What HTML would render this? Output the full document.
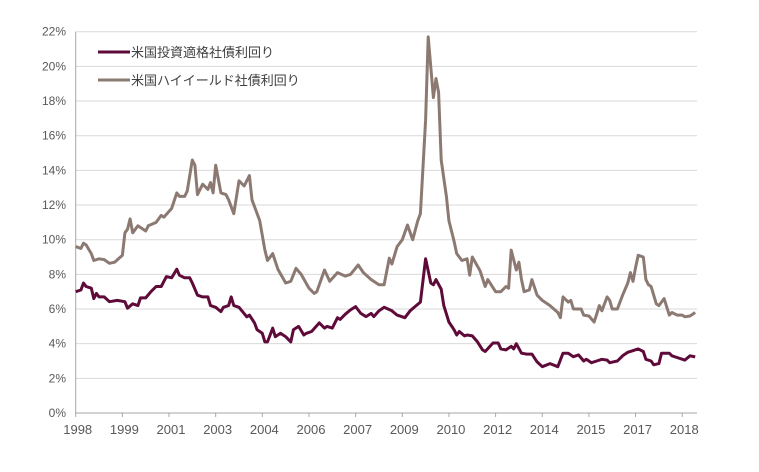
<!DOCTYPE html>
<html><head><meta charset="utf-8">
<style>
html,body{margin:0;padding:0;background:#fff;}
svg{display:block;font-family:"Liberation Sans","Noto Sans CJK JP",sans-serif;}
</style></head>
<body>
<svg id="chart" width="759" height="472"></svg>
<script>
const tickMonths=[0,18,36,54,72,90,108,126,144,162,180,198,216,234];
const tickLabels=["1998","1999","2001","2003","2004","2006","2007","2009","2010","2012","2014","2015","2017","2018"];
const yTicks=[0,2,4,6,8,10,12,14,16,18,20,22];
const hyMonths=[0,2,3,4,6,7,9,11,13,15,18,19,20,21,22,24,27,28,31,33,34,37,39,40,42,43,45,46,47,49,51,52,53,54,56,58,59,61,63,65,67,68,71,73,74,76,78,81,83,85,87,90,92,93,96,98,101,104,106,109,111,114,117,119,121,122,124,126,128,130,132,133,135,136,138,139,140,141,143,144,146,147,149,151,152,153,156,158,159,162,164,166,167,168,170,171,172,173,175,176,178,180,183,186,187,188,190,191,192,195,196,198,200,201,202,203,205,206,207,209,211,213,214,215,216,217,219,220,221,222,224,225,227,229,230,232,234,235,237,239];
const hyValues=[9.6,9.5,9.8,9.7,9.2,8.8,8.9,8.85,8.64,8.7,9.1,10.4,10.6,11.2,10.4,10.8,10.5,10.8,11.0,11.4,11.3,11.8,12.7,12.5,12.5,12.8,14.6,14.3,12.6,13.2,12.9,13.3,12.7,14.3,12.7,12.6,12.3,11.5,13.4,13.1,13.7,12.3,11.1,9.4,8.8,9.2,8.3,7.5,7.6,8.35,8.0,7.2,6.9,7.0,8.25,7.6,8.1,7.9,8.0,8.54,8.1,7.7,7.4,7.4,8.93,8.6,9.6,10.0,10.85,10.0,11.1,11.5,16.9,21.7,18.2,19.3,18.5,14.6,12.5,11.1,9.9,9.2,8.8,8.9,7.96,9.0,8.2,7.3,7.7,7.0,7.0,7.3,7.2,9.4,8.25,8.7,7.7,7.0,7.1,7.7,6.8,6.5,6.2,5.8,5.5,6.7,6.4,6.5,6.0,6.0,5.65,5.6,5.25,5.7,6.2,5.9,6.7,6.5,6.0,6.0,6.8,7.5,8.1,7.6,8.4,9.1,9.0,7.7,7.4,7.3,6.3,6.2,6.6,5.65,5.8,5.65,5.65,5.55,5.6,5.8];
const igMonths=[0,2,3,4,6,7,8,9,11,13,16,19,20,22,24,25,27,29,31,33,35,37,39,40,42,44,45,47,49,51,52,54,56,57,59,60,61,63,66,67,69,70,72,73,74,76,77,79,81,83,84,86,88,89,91,94,96,97,99,101,102,104,106,108,110,112,114,115,117,119,122,124,127,129,131,133,135,137,138,139,141,142,144,146,147,148,150,151,153,155,157,158,161,163,164,166,168,169,170,172,174,176,178,180,183,186,188,190,192,194,196,197,199,201,203,205,206,209,211,213,217,219,220,222,223,225,226,229,230,232,235,237,239];
const igValues=[7.0,7.1,7.5,7.3,7.2,6.6,6.9,6.7,6.7,6.42,6.5,6.42,6.05,6.3,6.2,6.64,6.64,7.0,7.3,7.3,7.87,7.8,8.3,7.95,7.8,7.8,7.5,6.8,6.7,6.7,6.2,6.1,5.85,6.1,6.2,6.7,6.2,6.1,5.55,5.65,5.2,4.8,4.6,4.1,4.1,4.9,4.4,4.6,4.4,4.1,4.8,5.0,4.5,4.6,4.7,5.2,4.9,5.0,4.9,5.5,5.4,5.7,5.95,6.14,5.75,5.56,5.75,5.56,5.9,6.1,5.9,5.65,5.5,5.9,6.15,6.4,8.9,7.5,7.4,7.7,7.15,6.2,5.25,4.8,4.5,4.7,4.45,4.5,4.45,4.1,3.64,3.55,4.04,4.04,3.7,3.64,3.85,3.7,4.0,3.45,3.4,3.4,2.95,2.67,2.85,2.67,3.45,3.45,3.25,3.35,3.0,3.1,2.9,3.0,3.1,3.05,2.9,3.0,3.3,3.5,3.7,3.55,3.1,3.0,2.78,2.85,3.45,3.45,3.3,3.2,3.05,3.3,3.24];

const NS="http://www.w3.org/2000/svg";
const svg=document.getElementById('chart');
const X0=75.7,PX_PER_M=2.592,Y0=413,PX_PER_PCT=17.33,XR=697;
const xs=m=>X0+m*PX_PER_M;
const ys=v=>Y0-v*PX_PER_PCT;
function mk(t,a,p){const e=document.createElementNS(NS,t);for(const k in a)e.setAttribute(k,a[k]);(p||svg).appendChild(e);return e;}

const grid=mk('g',{});


yTicks.forEach(v=>{
  if(v>0){const l=mk('line',{x1:X0,x2:XR,y1:ys(v),y2:ys(v),stroke:'#d9d9d9','stroke-width':1},grid);
  
  }
  const t=mk('text',{x:66,y:ys(v)+4,'text-anchor':'end','font-size':12,fill:'#595959'});
  t.textContent=v+'%';
  
  
});
const ya=mk('line',{x1:X0,x2:X0,y1:ys(22),y2:Y0,stroke:'#a6a6a6','stroke-width':1});


const xa=mk('line',{x1:X0,x2:XR,y1:Y0,y2:Y0,stroke:'#a6a6a6','stroke-width':1});


tickMonths.forEach((m,i)=>{
  mk('line',{x1:xs(m),x2:xs(m),y1:Y0,y2:Y0+4,stroke:'#a6a6a6'});
  const t=mk('text',{x:xs(m)+2,y:Y0+21,'text-anchor':'middle','font-size':13,fill:'#595959'});
  t.textContent=tickLabels[i];
  
  
});
function line(ms,vs,col,name){
  const d=ms.map((m,i)=>(i?'L':'M')+xs(m).toFixed(1)+','+ys(vs[i]).toFixed(1)).join('');
  const p=mk('path',{d:d,fill:'none',stroke:col,'stroke-width':3,'stroke-linejoin':'round'});
  
  
}
line(hyMonths,hyValues,'#8c7a72','high-yield-line');
line(igMonths,igValues,'#5e0b3a','investment-grade-line');

const lg=mk('g',{});


[['米国投資適格社債利回り','#5e0b3a',52],['米国ハイイールド社債利回り','#8c7a72',80]].forEach(([lab,c,y])=>{
  const e=mk('g',{},lg);
  
  
  mk('line',{x1:98,x2:130,y1:y,y2:y,stroke:c,'stroke-width':3},e);
  const t=mk('text',{x:131,y:y+5,'font-size':13,fill:'#404040'},e);
  t.textContent=lab;
});
</script>
</body></html>
